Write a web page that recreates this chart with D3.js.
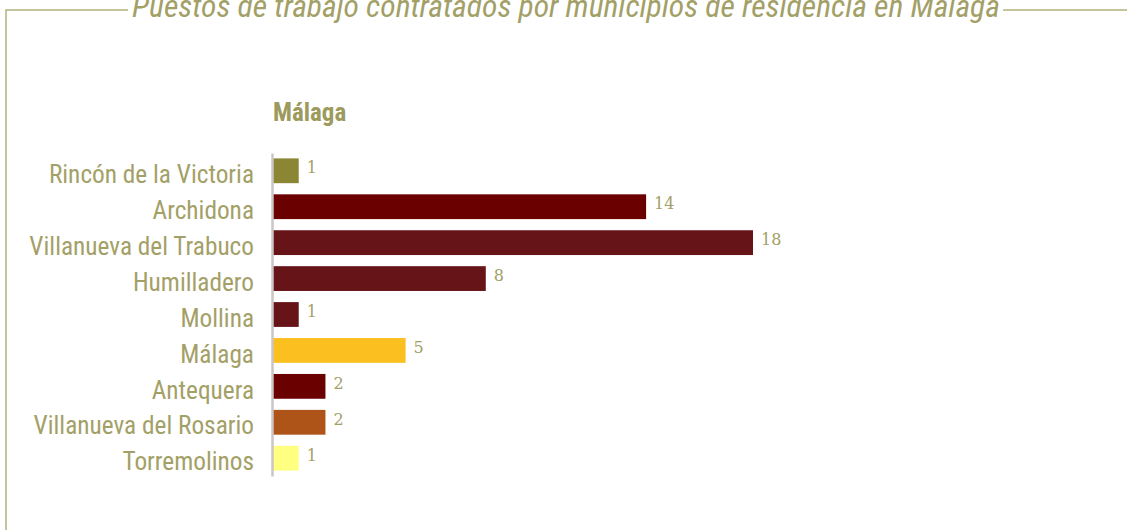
<!DOCTYPE html>
<html>
<head>
<meta charset="utf-8">
<script src="https://cdn.jsdelivr.net/npm/d3@7"></script>
<style>
  html, body { margin: 0; padding: 0; background: #fff; }
  svg { display: block; }
</style>
</head>
<body>
<div id="chart"></div>
<script>
'use strict';

const municipios = ['Rincón de la Victoria', 'Archidona', 'Villanueva del Trabuco', 'Humilladero',
    'Mollina', 'Málaga', 'Antequera', 'Villanueva del Rosario', 'Torremolinos'];
const puestos = [1, 14, 18, 8, 1, 5, 2, 2, 1];
const colores = ['#8b8634', '#6a0000', '#661418', '#661418', '#661418', '#fbbf1f', '#6a0000', '#ae5418', '#ffff80'];

const W = 1127, H = 530;
const olive = '#a3a067';
const narrow = '"Liberation Sans Narrow", "Arial Narrow", "Roboto Condensed", sans-serif';

const svg = d3.select('#chart').append('svg').attr('width', W).attr('height', H);

// Frame with title breaking the top border
svg.append('path')
    .attr('d', 'M6,530 V10 H128 M1003,10 H1127')
    .attr('fill', 'none').attr('stroke', '#b4b17e').attr('stroke-width', 1.5);

const title = svg.append('text')
    .attr('x', 566).attr('y', 17).attr('text-anchor', 'middle')
    .attr('font-family', narrow).attr('font-style', 'italic').attr('font-size', 31)
    .attr('fill', olive)
    .text('Puestos de trabajo contratados por municipios de residencia en Málaga');
// fit title into the gap of the frame
const tw = title.node().getComputedTextLength();
title.attr('font-size', 31 * 868 / tw);

svg.append('text')
    .attr('x', 273).attr('y', 121)
    .attr('font-family', narrow).attr('font-weight', 'bold').attr('font-size', 25)
    .attr('fill', '#9c9a5c').text('Málaga');

const x = d3.scaleLinear().domain([0, 18]).range([272, 753]);
const y = d3.scaleBand().domain(municipios).range([153, 476]).paddingInner(0.31).paddingOuter(0.15);

svg.selectAll('rect.bar')
    .data(municipios)
    .join('rect')
    .attr('class', 'bar')
    .attr('x', x(0)).attr('y', d => y(d))
    .attr('width', (d, i) => x(puestos[i]) - x(0))
    .attr('height', y.bandwidth())
    .attr('fill', (d, i) => colores[i]);

// Category axis
const yAxis = svg.append('g').attr('transform', `translate(${x(0)},0)`)
    .call(d3.axisLeft(y).tickSize(0).tickPadding(18));
yAxis.select('.domain').attr('stroke', '#cdc4c4').attr('stroke-width', 2.5);
yAxis.selectAll('text')
    .attr('font-family', narrow).attr('font-size', 25.3).attr('fill', olive)
    .attr('dy', '0.48em');

svg.selectAll('text.val')
    .data(municipios)
    .join('text')
    .attr('class', 'val')
    .attr('x', (d, i) => x(puestos[i]) + 8)
    .attr('y', d => y(d) + y.bandwidth() / 2 - 3)
    .attr('dy', '0.35em')
    .attr('font-family', '"DejaVu Serif", "Liberation Serif", serif')
    .attr('font-size', 16).attr('fill', olive)
    .text((d, i) => puestos[i]);
</script>
</body>
</html>
